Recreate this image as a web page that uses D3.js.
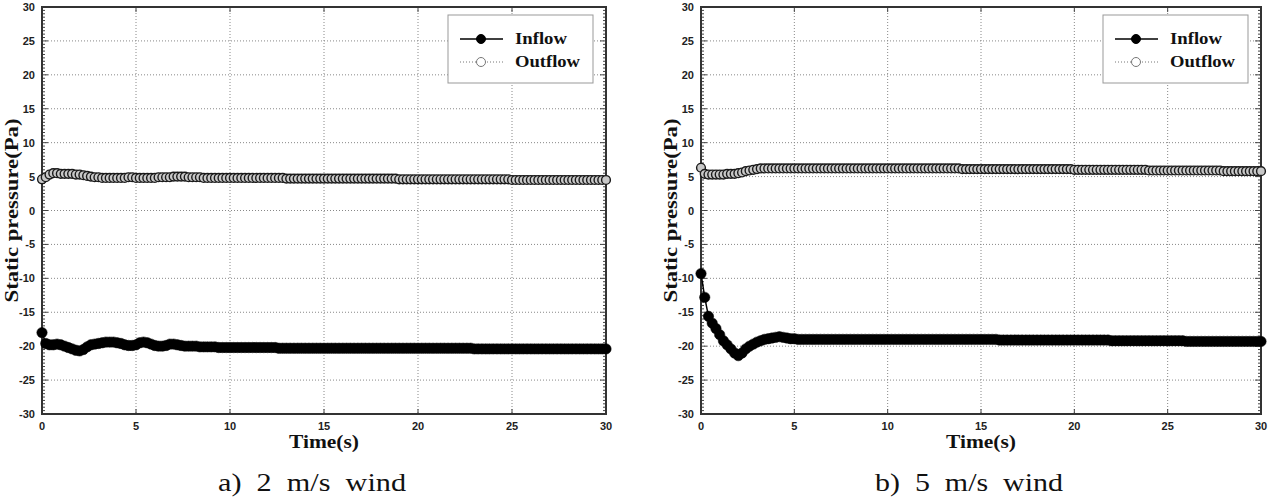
<!DOCTYPE html>
<html>
<head>
<meta charset="utf-8">
<script src="https://cdn.jsdelivr.net/npm/d3@7"></script>
<style>
  html, body { margin: 0; padding: 0; background: #fff; }
  svg { display: block; }
  .tick-label { font-family: Arial, "Liberation Sans", sans-serif; font-weight: bold; font-size: 11px; fill: #222; }
  .axis-title { font-family: "Liberation Serif", "Times New Roman", serif; font-weight: bold; font-size: 19px; fill: #111; }
  .legend-text { font-family: "Liberation Serif", "Times New Roman", serif; font-weight: bold; font-size: 17px; fill: #111; }
  .caption { font-family: "Liberation Serif", "Times New Roman", serif; font-size: 25px; fill: #111; }
</style>
</head>
<body>
<svg id="chart" width="1271" height="497"></svg>
<script>
// sampling interval of the time series (s)
const timeStep = 0.2;

const xTicks = [0, 5, 10, 15, 20, 25, 30];
const yTicks = [-30, -25, -20, -15, -10, -5, 0, 5, 10, 15, 20, 25, 30];
const seriesNames = ["Inflow", "Outflow"];
const captions = ["a)  2  m/s  wind", "b)  5  m/s  wind"];

// a) 2 m/s wind
const inflow2 = [
  -18.0,-19.6,-19.8,-19.8,-19.7,-19.8,-20.0,-20.2,-20.4,-20.6,
  -20.7,-20.5,-20.1,-19.8,-19.7,-19.6,-19.5,-19.4,-19.4,-19.4,
  -19.5,-19.6,-19.8,-19.9,-19.9,-19.8,-19.5,-19.4,-19.5,-19.7,
  -19.9,-20.0,-20.0,-19.9,-19.7,-19.7,-19.8,-19.9,-20.0,-20.0,
  -20.0,-20.0,-20.1,-20.1,-20.1,-20.1,-20.1,-20.2,-20.2,-20.2,
  -20.2,-20.2,-20.2,-20.2,-20.2,-20.2,-20.2,-20.2,-20.2,-20.2,
  -20.2,-20.2,-20.2,-20.3,-20.3,-20.3,-20.3,-20.3,-20.3,-20.3,
  -20.3,-20.3,-20.3,-20.3,-20.3,-20.3,-20.3,-20.3,-20.3,-20.3,
  -20.3,-20.3,-20.3,-20.3,-20.3,-20.3,-20.3,-20.3,-20.3,-20.3,
  -20.3,-20.3,-20.3,-20.3,-20.3,-20.3,-20.3,-20.3,-20.3,-20.3,
  -20.3,-20.3,-20.3,-20.3,-20.3,-20.3,-20.3,-20.3,-20.3,-20.3,
  -20.3,-20.3,-20.3,-20.3,-20.3,-20.4,-20.4,-20.4,-20.4,-20.4,
  -20.4,-20.4,-20.4,-20.4,-20.4,-20.4,-20.4,-20.4,-20.4,-20.4,
  -20.4,-20.4,-20.4,-20.4,-20.4,-20.4,-20.4,-20.4,-20.4,-20.4,
  -20.4,-20.4,-20.4,-20.4,-20.4,-20.4,-20.4,-20.4,-20.4,-20.4,
  -20.4
];
const outflow2 = [
  4.6,4.9,5.3,5.5,5.5,5.4,5.4,5.4,5.4,5.3,
  5.3,5.2,5.1,5.0,4.9,4.9,4.8,4.8,4.8,4.8,
  4.8,4.8,4.8,4.9,4.9,4.8,4.8,4.8,4.8,4.8,
  4.8,4.9,4.9,4.9,4.9,5.0,5.0,5.0,5.0,4.9,
  4.9,4.9,4.9,4.8,4.8,4.8,4.8,4.8,4.8,4.8,
  4.8,4.8,4.8,4.8,4.8,4.8,4.8,4.8,4.8,4.8,
  4.8,4.8,4.8,4.8,4.8,4.7,4.7,4.7,4.7,4.7,
  4.7,4.7,4.7,4.7,4.7,4.7,4.7,4.7,4.7,4.7,
  4.7,4.7,4.7,4.7,4.7,4.7,4.7,4.7,4.7,4.7,
  4.7,4.7,4.7,4.7,4.7,4.6,4.6,4.6,4.6,4.6,
  4.6,4.6,4.6,4.6,4.6,4.6,4.6,4.6,4.6,4.6,
  4.6,4.6,4.6,4.6,4.6,4.6,4.6,4.6,4.6,4.6,
  4.6,4.6,4.6,4.6,4.6,4.5,4.5,4.5,4.5,4.5,
  4.5,4.5,4.5,4.5,4.5,4.5,4.5,4.5,4.5,4.5,
  4.5,4.5,4.5,4.5,4.5,4.5,4.5,4.5,4.5,4.5,
  4.5
];

// b) 5 m/s wind
const inflow5 = [
  -9.3,-12.8,-15.6,-16.6,-17.4,-18.3,-19.2,-19.8,-20.4,-21.0,
  -21.4,-21.0,-20.4,-20.0,-19.7,-19.4,-19.2,-19.0,-18.9,-18.8,
  -18.7,-18.6,-18.7,-18.8,-18.9,-18.9,-19.0,-19.0,-19.0,-19.0,
  -19.0,-19.0,-19.0,-19.0,-19.0,-19.0,-19.0,-19.0,-19.0,-19.0,
  -19.0,-19.0,-19.0,-19.0,-19.0,-19.0,-19.0,-19.0,-19.0,-19.0,
  -19.0,-19.0,-19.0,-19.0,-19.0,-19.0,-19.0,-19.0,-19.0,-19.0,
  -19.0,-19.0,-19.0,-19.0,-19.0,-19.0,-19.0,-19.0,-19.0,-19.0,
  -19.0,-19.0,-19.0,-19.0,-19.0,-19.0,-19.0,-19.0,-19.0,-19.0,
  -19.1,-19.1,-19.1,-19.1,-19.1,-19.1,-19.1,-19.1,-19.1,-19.1,
  -19.1,-19.1,-19.1,-19.1,-19.1,-19.1,-19.1,-19.1,-19.1,-19.1,
  -19.1,-19.1,-19.1,-19.1,-19.1,-19.1,-19.1,-19.1,-19.1,-19.1,
  -19.2,-19.2,-19.2,-19.2,-19.2,-19.2,-19.2,-19.2,-19.2,-19.2,
  -19.2,-19.2,-19.2,-19.2,-19.2,-19.2,-19.2,-19.2,-19.2,-19.2,
  -19.3,-19.3,-19.3,-19.3,-19.3,-19.3,-19.3,-19.3,-19.3,-19.3,
  -19.3,-19.3,-19.3,-19.3,-19.3,-19.3,-19.3,-19.3,-19.3,-19.3,
  -19.3
];
const outflow5 = [
  6.3,5.4,5.3,5.3,5.3,5.3,5.3,5.4,5.4,5.4,
  5.5,5.6,5.8,5.9,6.0,6.1,6.2,6.2,6.2,6.2,
  6.2,6.2,6.2,6.2,6.2,6.2,6.2,6.2,6.2,6.2,
  6.2,6.2,6.2,6.2,6.2,6.2,6.2,6.2,6.2,6.2,
  6.2,6.2,6.2,6.2,6.2,6.2,6.2,6.2,6.2,6.2,
  6.2,6.2,6.2,6.2,6.2,6.2,6.2,6.2,6.2,6.2,
  6.2,6.2,6.2,6.2,6.2,6.2,6.2,6.2,6.2,6.2,
  6.1,6.1,6.1,6.1,6.1,6.1,6.1,6.1,6.1,6.1,
  6.1,6.1,6.1,6.1,6.1,6.1,6.1,6.1,6.1,6.1,
  6.1,6.1,6.1,6.1,6.1,6.1,6.1,6.1,6.1,6.1,
  6.0,6.0,6.0,6.0,6.0,6.0,6.0,6.0,6.0,6.0,
  6.0,6.0,6.0,6.0,6.0,6.0,6.0,6.0,6.0,6.0,
  5.9,5.9,5.9,5.9,5.9,5.9,5.9,5.9,5.9,5.9,
  5.9,5.9,5.9,5.9,5.9,5.9,5.9,5.9,5.9,5.9,
  5.8,5.8,5.8,5.8,5.8,5.8,5.8,5.8,5.8,5.8,
  5.8
];

const svg = d3.select("#chart");

function toPoints(vals) {
  return vals.map((v, i) => ({t: i * timeStep, v: v}));
}

function drawPanel(left, right, inflow, outflow, caption) {
  const top = 7, bottom = 414;
  const x = d3.scaleLinear().domain([0, 30]).range([left, right]);
  const y = d3.scaleLinear().domain([-30, 30]).range([bottom, top]);
  const g = svg.append("g");

  // grid
  g.append("g").selectAll("line").data(xTicks.slice(1, -1)).join("line")
    .attr("x1", d => x(d)).attr("x2", d => x(d))
    .attr("y1", top).attr("y2", bottom)
    .attr("stroke", "#888").attr("stroke-width", 1).attr("stroke-dasharray", "1,2");
  g.append("g").selectAll("line").data(yTicks.slice(1, -1)).join("line")
    .attr("x1", left).attr("x2", right)
    .attr("y1", d => y(d)).attr("y2", d => y(d))
    .attr("stroke", "#888").attr("stroke-width", 1).attr("stroke-dasharray", "1,2");

  // minor y ticks, both sides, inward
  const minor = d3.range(-30, 30.01, 0.5);
  g.append("g").selectAll("line").data(minor).join("line")
    .attr("x1", left).attr("x2", d => left + (d % 5 === 0 ? 6 : 3))
    .attr("y1", d => y(d)).attr("y2", d => y(d))
    .attr("stroke", "#444").attr("stroke-width", 1);
  g.append("g").selectAll("line").data(minor).join("line")
    .attr("x1", right).attr("x2", d => right - (d % 5 === 0 ? 6 : 3))
    .attr("y1", d => y(d)).attr("y2", d => y(d))
    .attr("stroke", "#444").attr("stroke-width", 1);
  // major x ticks
  g.append("g").selectAll("line").data(xTicks).join("line")
    .attr("x1", d => x(d)).attr("x2", d => x(d))
    .attr("y1", bottom).attr("y2", bottom - 5)
    .attr("stroke", "#444").attr("stroke-width", 1);
  g.append("g").selectAll("line").data(xTicks).join("line")
    .attr("x1", d => x(d)).attr("x2", d => x(d))
    .attr("y1", top).attr("y2", top + 5)
    .attr("stroke", "#444").attr("stroke-width", 1);

  // frame
  g.append("rect")
    .attr("x", left).attr("y", top)
    .attr("width", right - left).attr("height", bottom - top)
    .attr("fill", "none").attr("stroke", "#333").attr("stroke-width", 2);

  // tick labels
  g.append("g").selectAll("text").data(yTicks).join("text")
    .attr("class", "tick-label")
    .attr("x", left - 7).attr("y", d => y(d) + 4)
    .attr("text-anchor", "end")
    .text(d => d);
  g.append("g").selectAll("text").data(xTicks).join("text")
    .attr("class", "tick-label")
    .attr("x", d => x(d)).attr("y", bottom + 16)
    .attr("text-anchor", "middle")
    .text(d => d);

  // axis titles
  g.append("text").attr("class", "axis-title")
    .attr("x", (left + right) / 2).attr("y", bottom + 34)
    .attr("text-anchor", "middle")
    .attr("textLength", 70).attr("lengthAdjust", "spacingAndGlyphs")
    .text("Time(s)");
  g.append("text").attr("class", "axis-title")
    .attr("transform", `translate(${left - 24},${(top + bottom) / 2}) rotate(-90)`)
    .attr("text-anchor", "middle")
    .attr("textLength", 184).attr("lengthAdjust", "spacingAndGlyphs")
    .text("Static pressure(Pa)");

  // series
  const line = d3.line().x(d => x(d.t)).y(d => y(d.v));
  const inPts = toPoints(inflow), outPts = toPoints(outflow);

  g.append("path").datum(outPts).attr("d", line)
    .attr("fill", "none").attr("stroke", "#555").attr("stroke-width", 1)
    .attr("stroke-dasharray", "1,2");
  g.append("g").selectAll("circle").data(outPts).join("circle")
    .attr("cx", d => x(d.t)).attr("cy", d => y(d.v)).attr("r", 4.4)
    .attr("fill", "#c8c8c8").attr("stroke", "#1a1a1a").attr("stroke-width", 1.4);

  g.append("path").datum(inPts).attr("d", line)
    .attr("fill", "none").attr("stroke", "#000").attr("stroke-width", 1.5);
  g.append("g").selectAll("circle").data(inPts).join("circle")
    .attr("cx", d => x(d.t)).attr("cy", d => y(d.v)).attr("r", 5.2)
    .attr("fill", "#000").attr("stroke", "#000").attr("stroke-width", 0.5);

  // legend
  const lg = g.append("g").attr("transform", `translate(${right - 158},15)`);
  lg.append("rect").attr("x", 0).attr("y", 0).attr("width", 145).attr("height", 68)
    .attr("fill", "#fff").attr("stroke", "#999").attr("stroke-width", 1);
  seriesNames.forEach((name, i) => {
    const ly = 24 + i * 23;
    const row = lg.append("g");
    row.append("line").attr("x1", 12).attr("x2", 55).attr("y1", ly).attr("y2", ly)
      .attr("stroke", i === 0 ? "#000" : "#777").attr("stroke-width", i === 0 ? 1.5 : 1)
      .attr("stroke-dasharray", i === 0 ? null : "1,2");
    row.append("circle").attr("cx", 33).attr("cy", ly).attr("r", 4.5)
      .attr("fill", i === 0 ? "#000" : "#fff").attr("stroke", i === 0 ? "#000" : "#777")
      .attr("stroke-width", 1);
    row.append("text").attr("class", "legend-text")
      .attr("x", 67).attr("y", ly + 5)
      .attr("textLength", i === 0 ? 52 : 65).attr("lengthAdjust", "spacingAndGlyphs")
      .text(name);
  });

  // caption
  svg.append("text").attr("class", "caption")
    .attr("x", (left + right) / 2 - 12).attr("y", 491)
    .attr("text-anchor", "middle")
    .style("white-space", "pre")
    .attr("textLength", 188).attr("lengthAdjust", "spacingAndGlyphs")
    .text(caption);
}

drawPanel(42, 606, inflow2, outflow2, captions[0]);
drawPanel(701, 1261, inflow5, outflow5, captions[1]);
</script>
</body>
</html>
